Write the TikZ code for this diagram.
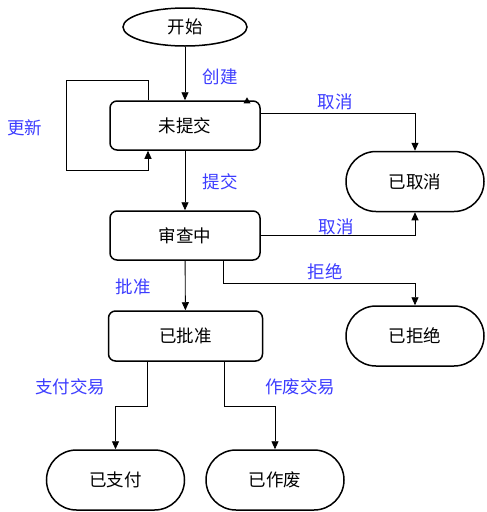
\documentclass[tikz,border=0pt]{standalone}
\usepackage{fontspec}
\setmainfont{Noto Sans CJK SC}
\usetikzlibrary{arrows.meta,shapes.misc,shapes.geometric}
\definecolor{lblue}{RGB}{60,60,255}
\begin{document}
\begin{tikzpicture}[x=1pt,y=-1pt,
  every node/.style={font=\fontsize{17.5}{20}\selectfont, inner sep=0pt},
  startnode/.style={draw, line width=1.5pt, ellipse, minimum width=124pt, minimum height=38pt},
  state/.style={draw, line width=1.5pt, rectangle, rounded corners=7pt, minimum width=150pt, minimum height=49pt},
  term/.style={draw, line width=1.5pt, rounded rectangle, minimum width=138pt, minimum height=60pt},
  lbl/.style={text=lblue},
  arr/.style={line width=0.9pt, -{Triangle[length=8pt,width=7pt]}}
]
\useasboundingbox (0,0) rectangle (487,512);

\node[startnode] (start) at (185,27) {开始};
\node[state] (nts) at (185,125.5) {未提交};
\node[state] (rev) at (185,235.5) {审查中};
\node[state, minimum width=154pt, minimum height=50pt] (appr) at (185.5,336) {已批准};
\node[term] (canc) at (415,181.5) {已取消};
\node[term] (rej) at (415,336) {已拒绝};
\node[term] (paid) at (115.5,480) {已支付};
\node[term] (void) at (275,480) {已作废};

% edges
\draw[arr] (start) -- (nts);
\draw[arr] ([xshift=-37pt]nts.north) -- ++(0,-20) -- ++(-82,0) -- ++(0,90) -- ++(82,0) -- ([xshift=-37pt]nts.south);
\draw[arr] ([yshift=12pt]nts.east) -| (canc.north);
\draw[arr] (nts) -- (rev);
\draw[arr] (rev.east) -| (canc.south);
\draw[arr] ([xshift=38pt]rev.south) -- ++(0,23) -| (rej.north);
\draw[arr] (rev) -- (appr);
\draw[arr] ([xshift=-38pt]appr.south) -- ++(0,45) -| (paid.north);
\draw[arr] ([xshift=39pt]appr.south) -- ++(0,45) -| (void.north);

% stray arrow tip on top of 未提交
\fill ([shift={(62pt,3pt)}]nts.north) -- ++(-3.5,6) -- ++(7,0) -- cycle;

% labels
\node[lbl] (l1) at (220,77) {创建};
\node[lbl] (l2) at (25,128) {更新};
\node[lbl] (l3) at (335,102) {取消};
\node[lbl] (l4) at (220,182) {提交};
\node[lbl] (l5) at (336,227) {取消};
\node[lbl] (l6) at (325,272) {拒绝};
\node[lbl] (l7) at (133,287) {批准};
\node[lbl] (l8) at (70,387) {支付交易};
\node[lbl] (l9) at (300,387) {作废交易};
\end{tikzpicture}
\end{document}
